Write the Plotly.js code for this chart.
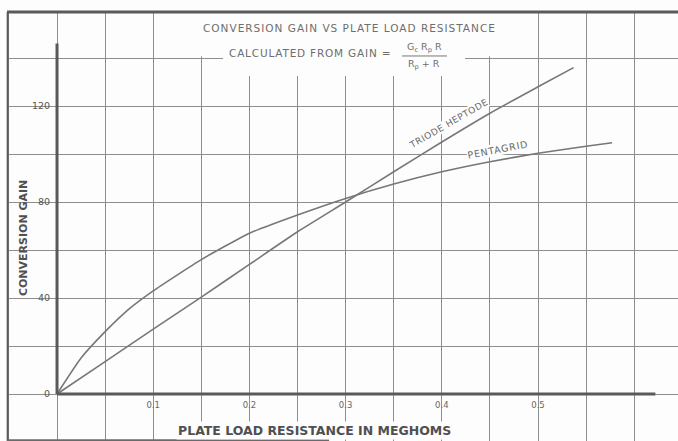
<!DOCTYPE html>
<html>
<head>
<meta charset="utf-8">
<script src="https://cdn.plot.ly/plotly-3.0.1.min.js"></script>
<style>
  html, body { margin: 0; padding: 0; background: #fdfdfd; }
  #chart { width: 678px; height: 441px; }
</style>
</head>
<body>
<div id="chart"></div>
<script>
// ---- data ----
const pentagridX = [0, 0.025, 0.05, 0.075, 0.1, 0.15, 0.2, 0.25, 0.3, 0.35, 0.4, 0.45, 0.5, 0.55, 0.577];
const pentagridY = [0, 15, 26, 35.5, 43, 56, 67, 74.6, 81.5, 87.5, 92.6, 96.8, 100.3, 103.2, 104.7];

const triodeHeptodeX = [0, 0.05, 0.1, 0.15, 0.2, 0.25, 0.3, 0.35, 0.4, 0.45, 0.5, 0.537];
const triodeHeptodeY = [0, 13.5, 27, 40.4, 54, 67.6, 80, 92.6, 105, 117, 128, 136];

const xTickVals = [0.1, 0.2, 0.3, 0.4, 0.5];
const xTickText = ['0.1', '0.2', '0.3', '0.4', '0.5'];
const yTickVals = [0, 40, 80, 120];
const yTickText = ['0', '40', '80', '120'];

const seriesNames = ['PENTAGRID', 'TRIODE HEPTODE'];
const titleLine1 = 'CONVERSION GAIN VS PLATE LOAD RESISTANCE';
const titleLine2 = 'CALCULATED FROM GAIN =';
const formulaNum = 'G<sub>c</sub> R<sub>p</sub> R';
const formulaDen = 'R<sub>p</sub> + R';
const xTitle = 'PLATE LOAD RESISTANCE IN MEGHOMS';
const yTitle = 'CONVERSION GAIN';

// ---- styling ----
const FONT = 'DejaVu Sans, sans-serif';
const GRID = '#8e8e8e';
const INK = '#5a5a5a';
const CURVE = '#777777';

const spaced = (t, px) => '<span style="letter-spacing:' + px + 'px">' + t + '</span>';

const xRange = [-0.052, 0.6455];
const yRange = [-19.58, 159.17];

const traces = [
  { x: pentagridX, y: pentagridY, name: seriesNames[0], mode: 'lines',
    line: { color: CURVE, width: 1.6, shape: 'spline', smoothing: 0.5 }, hoverinfo: 'skip' },
  { x: triodeHeptodeX, y: triodeHeptodeY, name: seriesNames[1], mode: 'lines',
    line: { color: CURVE, width: 1.6, shape: 'spline', smoothing: 0.5 }, hoverinfo: 'skip' }
];

const layout = {
  width: 678, height: 441,
  margin: { l: 7, r: 0, t: 12, b: 0, pad: 0 },
  paper_bgcolor: '#fdfdfd', plot_bgcolor: '#fdfdfd',
  showlegend: false,
  font: { family: FONT, color: INK },
  xaxis: {
    range: xRange, anchor: 'free', position: 0.1096,
    tickvals: xTickVals, ticktext: xTickText,
    ticks: 'outside', ticklen: 3, tickcolor: 'rgba(0,0,0,0)',
    tickfont: { size: 8.5, color: '#666', family: FONT },
    showgrid: true, gridcolor: GRID, gridwidth: 1,
    minor: { dtick: 0.05, tick0: 0, showgrid: true, gridcolor: GRID, gridwidth: 1 },
    zeroline: false, showline: false, fixedrange: true
  },
  yaxis: {
    range: yRange, anchor: 'free', position: 0.0745,
    tickvals: yTickVals, ticktext: yTickText,
    ticks: 'outside', ticklen: 5, tickcolor: 'rgba(0,0,0,0)',
    tickfont: { size: 9.5, color: '#555', family: FONT },
    showgrid: true, gridcolor: GRID, gridwidth: 1,
    minor: { dtick: 20, tick0: 0, showgrid: true, gridcolor: GRID, gridwidth: 1 },
    zeroline: false, showline: false, fixedrange: true
  },
  shapes: [
    // blank title area over the grid
    { type: 'rect', xref: 'x', yref: 'y', x0: 0.102, x1: 0.498, y0: 140.7, y1: 160,
      fillcolor: '#fdfdfd', line: { width: 0 }, layer: 'between' },
    { type: 'rect', xref: 'x', yref: 'y', x0: 0.1726, x1: 0.4241, y0: 132.5, y1: 141,
      fillcolor: '#fdfdfd', line: { width: 0 }, layer: 'between' },
    // fraction bar
    { type: 'line', xref: 'paper', yref: 'paper', x0: 0.5887, x1: 0.6557, y0: 0.8975, y1: 0.8975,
      line: { color: '#777', width: 1 } },
    // heavy axes
    { type: 'line', xref: 'x', yref: 'y', x0: 0, x1: 0, y0: 0, y1: 146,
      line: { color: INK, width: 3 } },
    { type: 'line', xref: 'x', yref: 'y', x0: 0, x1: 0.622, y0: 0, y1: 0,
      line: { color: INK, width: 3 } },
    // frame: top and left borders, bottom strip
    { type: 'line', xref: 'paper', yref: 'paper', x0: 0, x1: 1, y0: 1, y1: 1,
      line: { color: '#5a5a5a', width: 3 } },
    { type: 'line', xref: 'paper', yref: 'paper', x0: 0.001, x1: 0.001, y0: 0, y1: 1,
      line: { color: '#5a5a5a', width: 2 } },
    { type: 'line', xref: 'paper', yref: 'paper', x0: 0, x1: 0.48, y0: 0.002, y1: 0.002,
      line: { color: '#6a6a6a', width: 2 } }
  ],
  annotations: [
    { text: spaced(titleLine1, 1), xref: 'paper', yref: 'paper', x: 0.5097, y: 0.9627,
      xanchor: 'center', yanchor: 'middle', showarrow: false,
      font: { size: 10.5, color: '#6e6e6e', family: FONT } },
    { text: spaced(titleLine2, 0.8), xref: 'paper', yref: 'paper', x: 0.5753, y: 0.9044,
      xanchor: 'right', yanchor: 'middle', showarrow: false,
      font: { size: 10.5, color: '#6e6e6e', family: FONT } },
    { text: formulaNum, xref: 'paper', yref: 'paper', x: 0.6215, y: 0.9184,
      xanchor: 'center', yanchor: 'middle', showarrow: false,
      font: { size: 9.5, color: '#6e6e6e', family: FONT } },
    { text: formulaDen, xref: 'paper', yref: 'paper', x: 0.6215, y: 0.8765,
      xanchor: 'center', yanchor: 'middle', showarrow: false,
      font: { size: 9.5, color: '#6e6e6e', family: FONT } },
    { text: '<b>' + xTitle + '</b>', xref: 'paper', yref: 'paper', x: 0.459, y: 0.0256,
      xanchor: 'center', yanchor: 'middle', showarrow: false, bgcolor: '#fdfdfd', borderpad: 1,
      font: { size: 12.5, color: '#505050', family: FONT } },
    { text: '<b>' + yTitle + '</b>', xref: 'paper', yref: 'paper', x: 0.0238, y: 0.473,
      xanchor: 'center', yanchor: 'middle', textangle: -90, showarrow: false,
      font: { size: 11, color: '#505050', family: FONT } },
    { text: spaced(seriesNames[1], 0.6), xref: 'x', yref: 'y', x: 0.4065, y: 112.5, textangle: -30,
      xanchor: 'center', yanchor: 'middle', showarrow: false, bgcolor: '#fdfdfd', borderpad: 0,
      font: { size: 9, color: '#666', family: FONT } },
    { text: spaced(seriesNames[0], 0.8), xref: 'x', yref: 'y', x: 0.4584, y: 101.9, textangle: -11,
      xanchor: 'center', yanchor: 'middle', showarrow: false, bgcolor: '#fdfdfd', borderpad: 0,
      font: { size: 9.5, color: '#666', family: FONT } }
  ]
};

Plotly.newPlot('chart', traces, layout, { staticPlot: true, displayModeBar: false });
</script>
</body>
</html>
